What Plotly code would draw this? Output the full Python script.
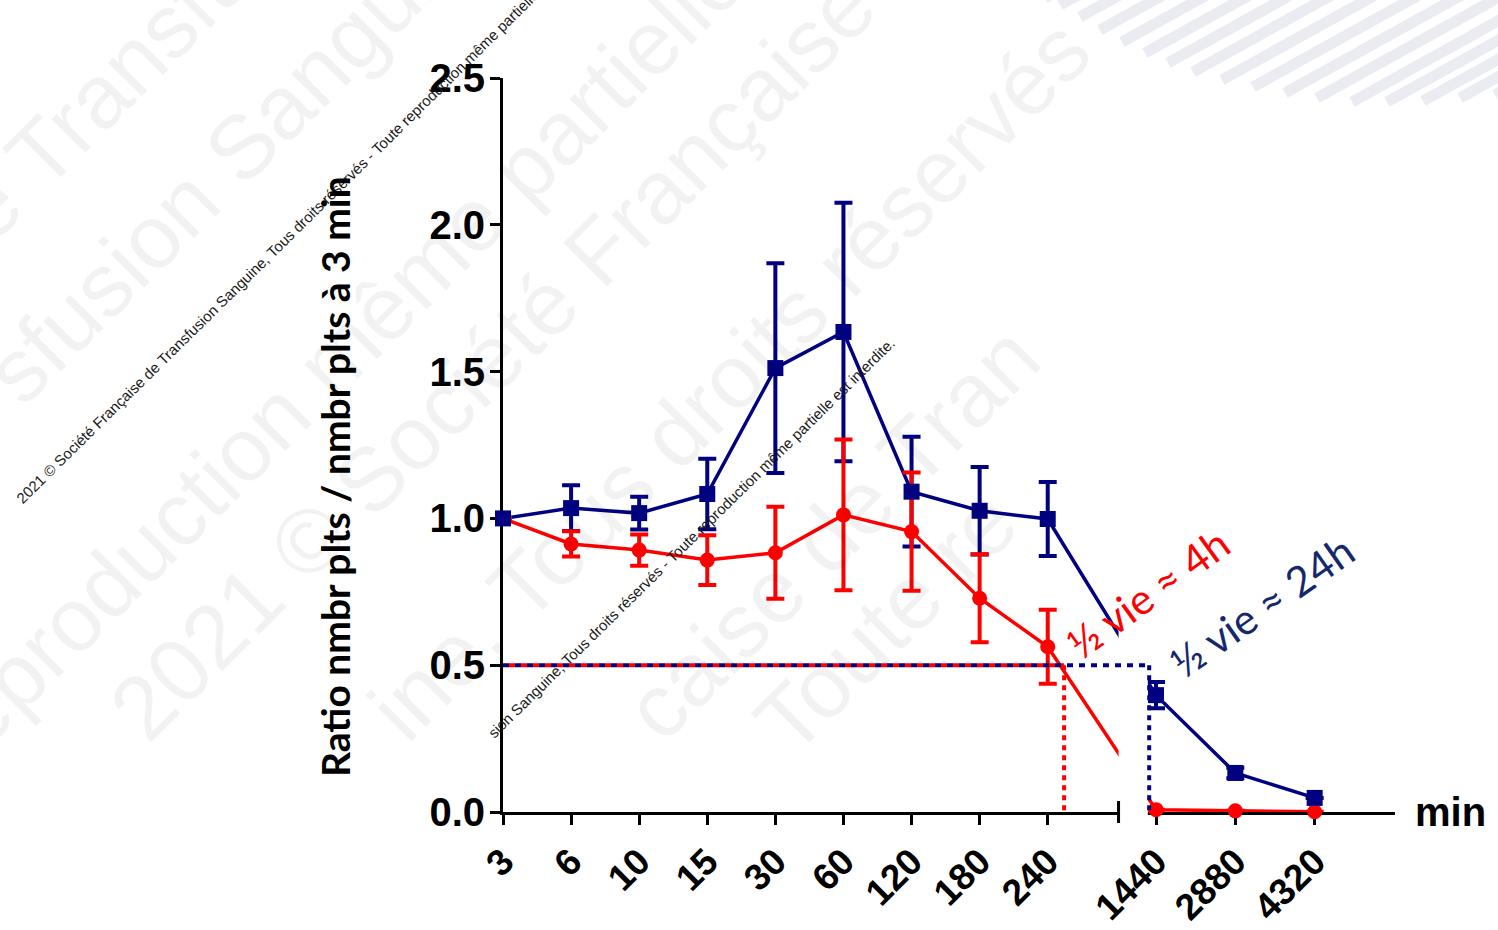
import math
import plotly.graph_objects as go

# ---------------- data ----------------
time_labels = ["3", "6", "10", "15", "30", "60", "120", "180", "240", "1440", "2880", "4320"]
blue_mean = [1.0, 1.035, 1.018, 1.083, 1.512, 1.635, 1.091, 1.026, 0.998, 0.398, 0.133, 0.048]
blue_err = [0.0, 0.078, 0.056, 0.120, 0.357, 0.440, 0.187, 0.149, 0.126, 0.045, 0.018, 0.0]
red_mean = [1.0, 0.913, 0.892, 0.858, 0.883, 1.012, 0.955, 0.728, 0.563, 0.008, 0.004, 0.001]
red_err = [0.0, 0.043, 0.053, 0.085, 0.157, 0.257, 0.201, 0.150, 0.126, 0.0, 0.0, 0.0]
y_ticks = [0.0, 0.5, 1.0, 1.5, 2.0, 2.5]
half_ratio = 0.5
red_label = "½ vie ≈ 4h"
blue_label = "½ vie ≈ 24h"
y_title = "Ratio nmbr plts / nmbr plts à 3 min"
x_unit = "min"
copyright_1 = "2021 © Société Française de Transfusion Sanguine, Tous droits réservés - Toute reproduction même partielle est interdite."
copyright_2 = "sion Sanguine, Tous droits réservés - Toute reproduction même partielle est interdite."

# ---------------- broken x scale ----------------
N_EARLY = 9          # categories before the axis break
LATE_START = 9.59    # display position of the first category after the break
LATE_STEP = 1.165    # spacing of categories after the break
BREAK_START = 9.04
BREAK_END = 9.47
XMAX = 13.1

def xpos(i):
    return i if i < N_EARLY else LATE_START + (i - N_EARLY) * LATE_STEP

xs = [xpos(i) for i in range(len(time_labels))]

# half-life read-outs
i0 = N_EARLY - 1
t = (red_mean[i0] - half_ratio) / (red_mean[i0] - red_mean[i0 + 1])
red_half_x = xs[i0] + t * (xs[i0 + 1] - xs[i0]) + 0.06
blue_half_x = BREAK_END + 0.02

NAVY = "#000080"
RED = "#ff0000"

# figure geometry
W, H = 1498, 930
L, R, T, B = 503, 103, 78, 118
PW, PH = W - L - R, H - T - B

def px2paper(px, py):
    return (px - L) / PW, (H - B - py) / PH

fig = go.Figure()

# lines
fig.add_trace(go.Scatter(x=xs, y=blue_mean, mode="lines", line=dict(color=NAVY, width=3.5), hoverinfo="skip"))
fig.add_trace(go.Scatter(x=xs, y=red_mean, mode="lines", line=dict(color=RED, width=3.5), hoverinfo="skip"))
# error bars
for mean, err, col in [(blue_mean, blue_err, NAVY), (red_mean, red_err, RED)]:
    fig.add_trace(go.Scatter(
        x=xs, y=mean, mode="markers", cliponaxis=False,
        marker=dict(size=1, color="rgba(0,0,0,0)"),
        error_y=dict(type="data", array=err, symmetric=True, color=col, thickness=4, width=9),
        hoverinfo="skip"))
# markers
fig.add_trace(go.Scatter(x=xs, y=red_mean, mode="markers", cliponaxis=False,
                         marker=dict(symbol="circle", size=15, color=RED)))
fig.add_trace(go.Scatter(x=xs, y=blue_mean, mode="markers", cliponaxis=False,
                         marker=dict(symbol="square", size=16, color=NAVY)))

shapes = []
# top-right decorative stripes
stripe_starts = [(1045, -2), (1060, 5), (1080, 17), (1100, 30), (1122, 42), (1145, 53), (1168, 63),
                 (1193, 72), (1222, 80), (1253, 87), (1285, 93), (1317, 98), (1352, 102),
                 (1387, 102), (1423, 101), (1460, 98), (1495, 95)]
ang = math.radians(29)
for sx, sy in stripe_starts:
    tlen = (sy + 10) / math.sin(ang)
    ex, ey = sx + tlen * math.cos(ang), sy - tlen * math.sin(ang)
    x0, y0 = px2paper(sx, sy)
    x1, y1 = px2paper(ex, ey)
    shapes.append(dict(type="line", xref="paper", yref="paper", x0=x0, y0=y0, x1=x1, y1=y1,
                       line=dict(color="#ebebf2", width=11), layer="below"))

# axis break gap
shapes.append(dict(type="rect", xref="paper", yref="paper", x0=BREAK_START / XMAX, x1=BREAK_END / XMAX,
                   y0=-0.03, y1=1.0, fillcolor="white", line=dict(width=0), layer="above"))
shapes.append(dict(type="line", xref="paper", yref="paper", x0=BREAK_START / XMAX, x1=BREAK_START / XMAX,
                   y0=-0.015, y1=0.015, line=dict(color="black", width=3), layer="above"))
# half-life dotted read-outs
shapes.append(dict(type="line", xref="x", yref="y", x0=0, x1=blue_half_x, y0=half_ratio, y1=half_ratio,
                   line=dict(color=NAVY, width=4, dash="6px,6px"), layer="above"))
shapes.append(dict(type="line", xref="x", yref="y", x0=0, x1=red_half_x, y0=half_ratio, y1=half_ratio,
                   line=dict(color=RED, width=4, dash="0px,6px,6px,0px"), layer="above"))
shapes.append(dict(type="line", xref="x", yref="y", x0=red_half_x, x1=red_half_x, y0=half_ratio, y1=0,
                   line=dict(color=RED, width=4, dash="5px,5px"), layer="above"))
shapes.append(dict(type="line", xref="x", yref="y", x0=blue_half_x, x1=blue_half_x, y0=half_ratio, y1=0,
                   line=dict(color=NAVY, width=4, dash="5px,5px"), layer="above"))

annotations = []

def rotated_text(text, sx, sy, size, angle_deg, color, family="Liberation Sans"):
    # place text so that its start (bottom-left of text box) lands at pixel (sx, sy)
    h = 1.25 * size + 4
    a = math.radians(angle_deg)
    x, y = px2paper(sx - h * math.sin(a), sy)
    annotations.append(dict(text=text, x=x, y=y, xref="paper", yref="paper", xanchor="left",
                            yanchor="bottom", textangle=-angle_deg, showarrow=False,
                            font=dict(family=family, size=size, color=color)))

# faint watermark
wm = "rgba(0,0,0,0.05)"
for txt, sx, sy in [("e Transfusion Sanguine", 15, 262),
                    ("sfusion Sanguine", 45, 425),
                    ("reproduction même partielle", -15, 790),
                    ("2021 © Société Française de", 170, 762),
                    ("ine. Tous droits réservés", 430, 762),
                    ("caise de Tran", 685, 762),
                    ("Toute re", 815, 775)]:
    rotated_text(txt, sx, sy, 90, 45, wm)

# copyright lines
rotated_text(copyright_1, 26, 510, 15, 44.5, "#1a1a1a")
rotated_text(copyright_2, 498, 744, 15, 44.5, "#1a1a1a")

# half-life labels
annotations.append(dict(text=red_label, x=9.47, y=0.745, xref="x", yref="y", showarrow=False,
                        textangle=-36, font=dict(family="Lato", size=42, color=RED)))
annotations.append(dict(text=blue_label, x=11.15, y=0.70, xref="x", yref="y", showarrow=False,
                        textangle=-35, font=dict(family="Lato", size=42, color="#14286e")))
# x unit
mx, my = px2paper(1450, 812)
annotations.append(dict(text=x_unit, x=mx, y=0, xref="paper", yref="paper", showarrow=False,
                        xanchor="center", yanchor="middle",
                        font=dict(family="Liberation Sans", size=40, color="black", weight="bold")))
# y title
tx, ty = px2paper(335, 477)
annotations.append(dict(text=y_title, x=tx, y=ty, xref="paper", yref="paper", showarrow=False,
                        xanchor="center", yanchor="middle", textangle=-90,
                        font=dict(family="Lato", size=39, color="black", weight="bold")))

fig.update_layout(
    width=W, height=H, autosize=False,
    margin=dict(l=L, r=R, t=T, b=B, pad=0),
    paper_bgcolor="white", plot_bgcolor="rgba(0,0,0,0)",
    showlegend=False,
    shapes=shapes, annotations=annotations,
    font=dict(family="Liberation Sans", color="black"),
)
fig.update_xaxes(
    range=[0, XMAX], tickmode="array", tickvals=xs, ticktext=time_labels, tickangle=-45,
    showline=True, linecolor="black", linewidth=3, ticks="outside", ticklen=10, tickwidth=3,
    tickcolor="black", showgrid=False, zeroline=False, layer="below traces", automargin=False,
    tickfont=dict(family="Liberation Sans", size=37, color="black", weight="bold"),
)
fig.update_yaxes(
    range=[0, 2.5], tickmode="array", tickvals=y_ticks, ticktext=[f"{v:.1f}" for v in y_ticks],
    showline=True, linecolor="black", linewidth=3, ticks="outside", ticklen=10, tickwidth=3,
    tickcolor="black", showgrid=False, zeroline=False, layer="below traces", automargin=False,
    ticklabelstandoff=-3,
    tickfont=dict(family="Liberation Sans", size=40, color="black", weight="bold"),
)

fig.write_html("out.html")
